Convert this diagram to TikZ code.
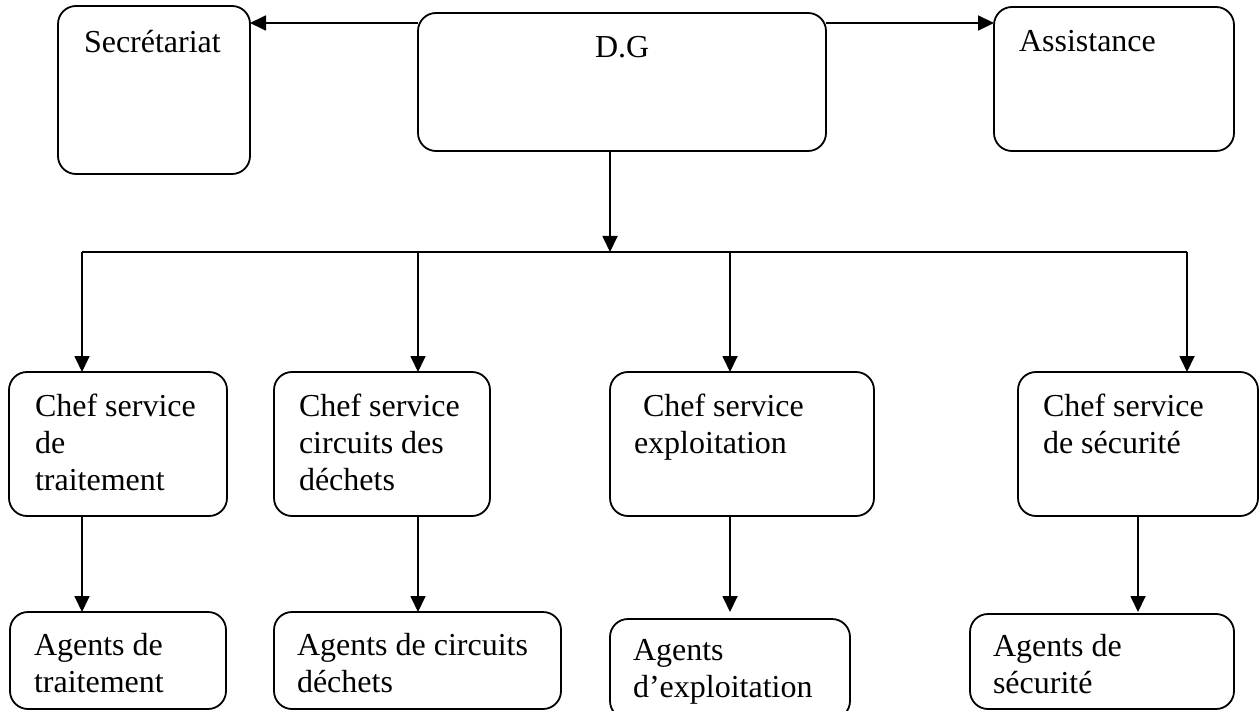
\documentclass[tikz,border=0pt]{standalone}
\usepackage{fontspec}
\setmainfont{Liberation Serif}
\usetikzlibrary{arrows.meta}
\begin{document}
\begin{tikzpicture}[x=1pt,y=-1pt,
  box/.style={draw=black,line width=1.8pt,rounded corners=18pt,inner sep=0pt,outer sep=0pt,anchor=north west},
  txt/.style={anchor=base west,inner sep=0pt,outer sep=0pt,align=left,font=\fontsize{32}{37}\selectfont},
  arr/.style={line width=1.8pt,-{Triangle[length=16pt,width=15pt]}},
  ln/.style={line width=1.8pt}]
\useasboundingbox (0,0) rectangle (1260,711);
\clip (0,0) rectangle (1260,711);
% top row
\node[box,minimum width=192pt,minimum height=168pt] (sec) at (58,6) {};
\node[box,minimum width=408pt,minimum height=138pt] (dg) at (418,13) {};
\node[box,minimum width=240pt,minimum height=144pt] (ass) at (994,7) {};
\node[txt] (tsec) at (84,53) {Secrétariat};
\node[txt] (tdg) at (595,58) {D.G};
\node[txt] (tass) at (1019,52) {Assistance};
% chef row (anchor base = baseline of last line)
\node[box,minimum width=218pt,minimum height=144pt] (c1) at (9,372) {};
\node[box,minimum width=216pt,minimum height=144pt] (c2) at (274,372) {};
\node[box,minimum width=264pt,minimum height=144pt] (c3) at (610,372) {};
\node[box,minimum width=240pt,minimum height=144pt] (c4) at (1018,372) {};
\node[txt] (tc1) at (35,490) {Chef service\\de\\traitement};
\node[txt] (tc2) at (299,490) {Chef service\\circuits des\\déchets};
\node[txt] (tc3) at (634,453) {\hspace*{9pt}Chef service\\exploitation};
\node[txt] (tc4) at (1043,453) {Chef service\\de sécurité};
% agents row
\node[box,minimum width=216pt,minimum height=97pt] (a1) at (10,612) {};
\node[box,minimum width=287pt,minimum height=97pt] (a2) at (274,612) {};
\node[box,minimum width=240pt,minimum height=100pt] (a3) at (610,619) {};
\node[box,minimum width=264pt,minimum height=95pt] (a4) at (970,614) {};
\node[txt] (ta1) at (34,692) {Agents de\\traitement};
\node[txt] (ta2) at (297,692) {Agents de circuits\\déchets};
\node[txt] (ta3) at (633,697) {Agents\\d’exploitation};
\node[txt] (ta4) at (993,693) {Agents de\\sécurité};
% connectors
\draw[arr] ([yshift=-10pt]dg.north west) -- ([yshift=-17pt]sec.north east);
\draw[arr] ([yshift=-10pt]dg.north east) -- ([yshift=-16pt]ass.north west);
\coordinate (j) at (610,252);
\coordinate (b1) at (82,252);
\coordinate (b2) at (418,252);
\coordinate (b3) at (730,252);
\coordinate (b4) at (1187,252);
\coordinate (d4) at (1138,516);
\draw[arr] (j |- dg.south) -- (j);
\draw[ln] (b1) -- (b4);
\draw[arr] (b1) -- (b1 |- c1.north);
\draw[arr] (b2) -- (b2 |- c2.north);
\draw[arr] (b3) -- (b3 |- c3.north);
\draw[arr] (b4) -- (b4 |- c4.north);
\draw[arr] (b1 |- c1.south) -- (b1 |- a1.north);
\draw[arr] (b2 |- c2.south) -- (b2 |- a2.north);
\draw[arr] (b3 |- c3.south) -- ([yshift=7pt]b3 |- a3.north);
\draw[arr] (d4 |- c4.south) -- ([yshift=2pt]d4 |- a4.north);
\end{tikzpicture}
\end{document}
